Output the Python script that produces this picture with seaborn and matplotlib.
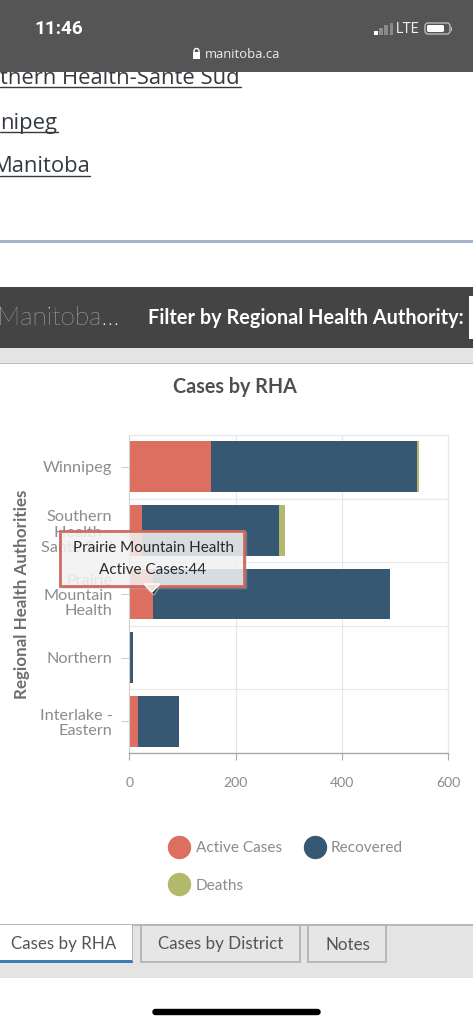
import matplotlib
matplotlib.use('Agg')
import matplotlib.pyplot as plt
from matplotlib.lines import Line2D
from matplotlib.patches import Rectangle, FancyBboxPatch, Polygon, Circle
import numpy as np
import pandas as pd
import seaborn as sns

regions = ['Winnipeg', 'Southern\nHealth -\nSante Sud', 'Prairie\nMountain\nHealth', 'Northern', 'Interlake -\nEastern']
active = [154, 24, 44, 0, 16]
recovered = [387, 258, 446, 6, 78]
deaths = [4, 10, 0, 0, 0]
x_ticks = [0, 200, 400, 600]

col_active = '#dc6f5f'
col_recovered = '#375873'
col_deaths = '#b2b96c'
col_text = '#8c8c8c'

W, H = 473, 1024
sns.set_theme(style='white')
plt.rcParams['font.family'] = ['Lato', 'DejaVu Sans']


def px(size):
    return size * 72 / 100


df = pd.DataFrame({'region': regions, 'active': active, 'recovered': recovered, 'deaths': deaths})
df['to_recovered'] = df['active'] + df['recovered']
df['total'] = df['to_recovered'] + df['deaths']

fig = plt.figure(figsize=(W / 100, H / 100), dpi=100, facecolor='white')

# chart, plot area is 129.4-448.4 by 435-753 in pixels
ax = fig.add_axes([129.4 / W, 1 - 753 / H, 319 / W, 318 / H])
ax.set_facecolor('white')
ax.set_axisbelow(True)
for col, colr in [('total', col_deaths), ('to_recovered', col_recovered), ('active', col_active)]:
    sns.barplot(df, y='region', x=col, color=colr, saturation=1, width=0.8, ax=ax, orient='y', linewidth=0)

ax.set_xlim(0, 600)
ax.set_ylim(4.5, -0.5)
ax.set_xticks(x_ticks)
ax.set_xlabel('')
ax.set_ylabel('Regional Health Authorities', fontsize=px(17), color='#6e6e6e', fontweight='bold')
ax.yaxis.set_label_coords(-0.313, 0.5)

ax.grid(axis='x', color='#e6e6e6', lw=0.8)
for b in np.arange(-0.5, 4.6, 1):
    ax.axhline(b, color='#e9e9e9', lw=0.8, zorder=0.5)

ax.tick_params(axis='y', length=px(8), width=0.8, color='#cfcfcf', labelsize=px(16.2), labelcolor=col_text, pad=px(9), left=True)
ax.tick_params(axis='x', length=px(7), width=0.8, color='#aaaaaa', labelsize=px(14), labelcolor=col_text, pad=px(17), bottom=True)
for lab in ax.get_yticklabels():
    lab.set_linespacing(1.12)
for s in ['top', 'right']:
    ax.spines[s].set_color('#e6e6e6')
    ax.spines[s].set_linewidth(0.8)
ax.spines['left'].set_color('#cfcfcf')
ax.spines['left'].set_linewidth(0.8)
ax.spines['bottom'].set_color('#a8a8a8')
ax.spines['bottom'].set_linewidth(1)

handles = [Line2D([], [], ls='', marker='o', ms=px(22), color=c) for c in [col_active, col_deaths, col_recovered]]
fig.legend(handles, ['Active Cases', 'Deaths', 'Recovered'], ncols=2, frameon=False,
           loc='upper left', bbox_to_anchor=(169.5 / W, 1 - 841 / H), bbox_transform=fig.transFigure,
           fontsize=px(15.4), labelcolor=col_text, handlelength=1.25, handletextpad=0.45,
           columnspacing=1.5, labelspacing=1.55, borderpad=0, borderaxespad=0)

# page around the chart, in pixels
ov = fig.add_axes([0, 0, 1, 1])
ov.set_xlim(0, W)
ov.set_ylim(H, 0)
ov.axis('off')
ov.patch.set_alpha(0)


def rect(x, y, w, h, fc, ec='none', lw=0, z=2, alpha=None):
    ov.add_patch(Rectangle((x, y), w, h, fc=fc, ec=ec, lw=lw, zorder=z, alpha=alpha))


# links under the status bar
for txt, x0, x1, yy, ul in [('thern Health-Sante Sud', 0, 241, 79, 87), ('nipeg', 0, 58, 123.5, 132), ('Manitoba', -7, 90, 167, 175.5)]:
    ov.text(x0, yy, txt, fontsize=px(22), color='#333a40', family='Open Sans', va='center', ha='left', zorder=1)
    ov.plot([max(x0, 0), x1], [ul, ul], color='#333a40', lw=1, zorder=1)

# status bar
rect(0, 0, W, 72, '#555555', z=3)
ov.text(59, 29, '11:46', color='white', fontsize=px(19), fontweight='bold', ha='center', va='center', family='Roboto', zorder=4)
ov.text(243, 54, 'manitoba.ca', color='#eeeeee', fontsize=px(13), ha='center', va='center', family='Open Sans', zorder=4)
rect(193, 52, 7, 7, 'white', z=4)
ov.add_patch(Circle((196.5, 51), 2.5, fc='none', ec='white', lw=1, zorder=4))
for i, hh in enumerate([4, 7, 10, 12]):
    rect(374 + i * 5.2, 35 - hh, 3.6, hh, 'white' if i == 0 else '#8a8a8a', z=4)
ov.text(407.5, 29, 'LTE', color='#eeeeee', fontsize=px(14), ha='center', va='center', family='Roboto', zorder=4)
ov.add_patch(FancyBboxPatch((425, 23), 25, 11, boxstyle='round,pad=0,rounding_size=3', fc='none', ec='#bbbbbb', lw=1, zorder=4))
ov.add_patch(FancyBboxPatch((427, 25), 17, 7, boxstyle='round,pad=0,rounding_size=1.5', fc='white', ec='none', zorder=4))
rect(451, 27, 1.3, 4, '#bbbbbb', z=4)

# divider and filter bar
rect(0, 240, W, 2.5, '#a3b5c6')
rect(0, 287, W, 61, '#444444')
rect(0, 348, W, 15, '#e4e4e4')
rect(0, 363, W, 1.3, '#bcbcbc')
ov.text(119, 318, 'Manitoba...', color='white', fontsize=px(26), fontweight='light', ha='right', va='center', zorder=3)
ov.text(148, 318, 'Filter by Regional Health Authority:', color='white', fontsize=px(19.85), fontweight='bold', ha='left', va='center', zorder=3)
rect(468.5, 296, 6, 43, 'white', z=3)
ov.text(234.5, 387, 'Cases by RHA', color='#4f4f4f', fontsize=px(19.8), fontweight='bold', ha='center', va='center')

# tooltip
shadow = Rectangle((61, 532), 185, 56, fc='#000000', alpha=0.25, zorder=5)
ov.add_patch(shadow)
ov.add_patch(Polygon([[144, 586], [160, 586], [154, 595]], fc='#000000', alpha=0.45, zorder=5))
rect(59.5, 530.5, 184, 55, 'white', ec='none', z=6, alpha=0.82)
ov.add_patch(Rectangle((59.5, 530.5), 184, 55, fc='none', ec='#cf6b5d', lw=2, zorder=7))
ov.add_patch(Polygon([[144, 584], [152, 592], [160, 584]], fc='#f6dcd8', zorder=8))
ov.text(153, 548, 'Prairie Mountain Health', color='#2a2a2a', fontsize=px(15.3), ha='center', va='center', zorder=8)
ov.text(153, 570, 'Active Cases:44', color='#2a2a2a', fontsize=px(15.3), ha='center', va='center', zorder=8)

# tabs
rect(0, 925, W, 53, '#e4e4e4')
rect(0, 924, W, 1.5, '#b8b8b8')
rect(0, 925, 132, 36, 'white', z=3)
rect(0, 960, 132.5, 2.5, '#3d7ab8', z=4)
rect(132, 925, 1.3, 36, '#b8b8b8', z=4)
ov.text(63.5, 944.5, 'Cases by RHA', color='#555555', fontsize=px(17), ha='center', va='center', zorder=5)
for x0, x1, lab in [(141, 299.5, 'Cases by District'), (308, 386, 'Notes')]:
    ov.add_patch(Rectangle((x0, 925), x1 - x0, 36.5, fc='#e6e6e6', ec='#b4b4b4', lw=1.3, zorder=3))
    ov.text((x0 + x1) / 2 + 0.5, 944.5, lab, color='#555555', fontsize=px(17), ha='center', va='center', zorder=5)

# home indicator
ov.add_patch(FancyBboxPatch((153, 1009.5), 167, 5, boxstyle='round,pad=0,rounding_size=2.5', fc='black', ec='black', lw=1, zorder=3))

fig.savefig('out.png', dpi=100)
